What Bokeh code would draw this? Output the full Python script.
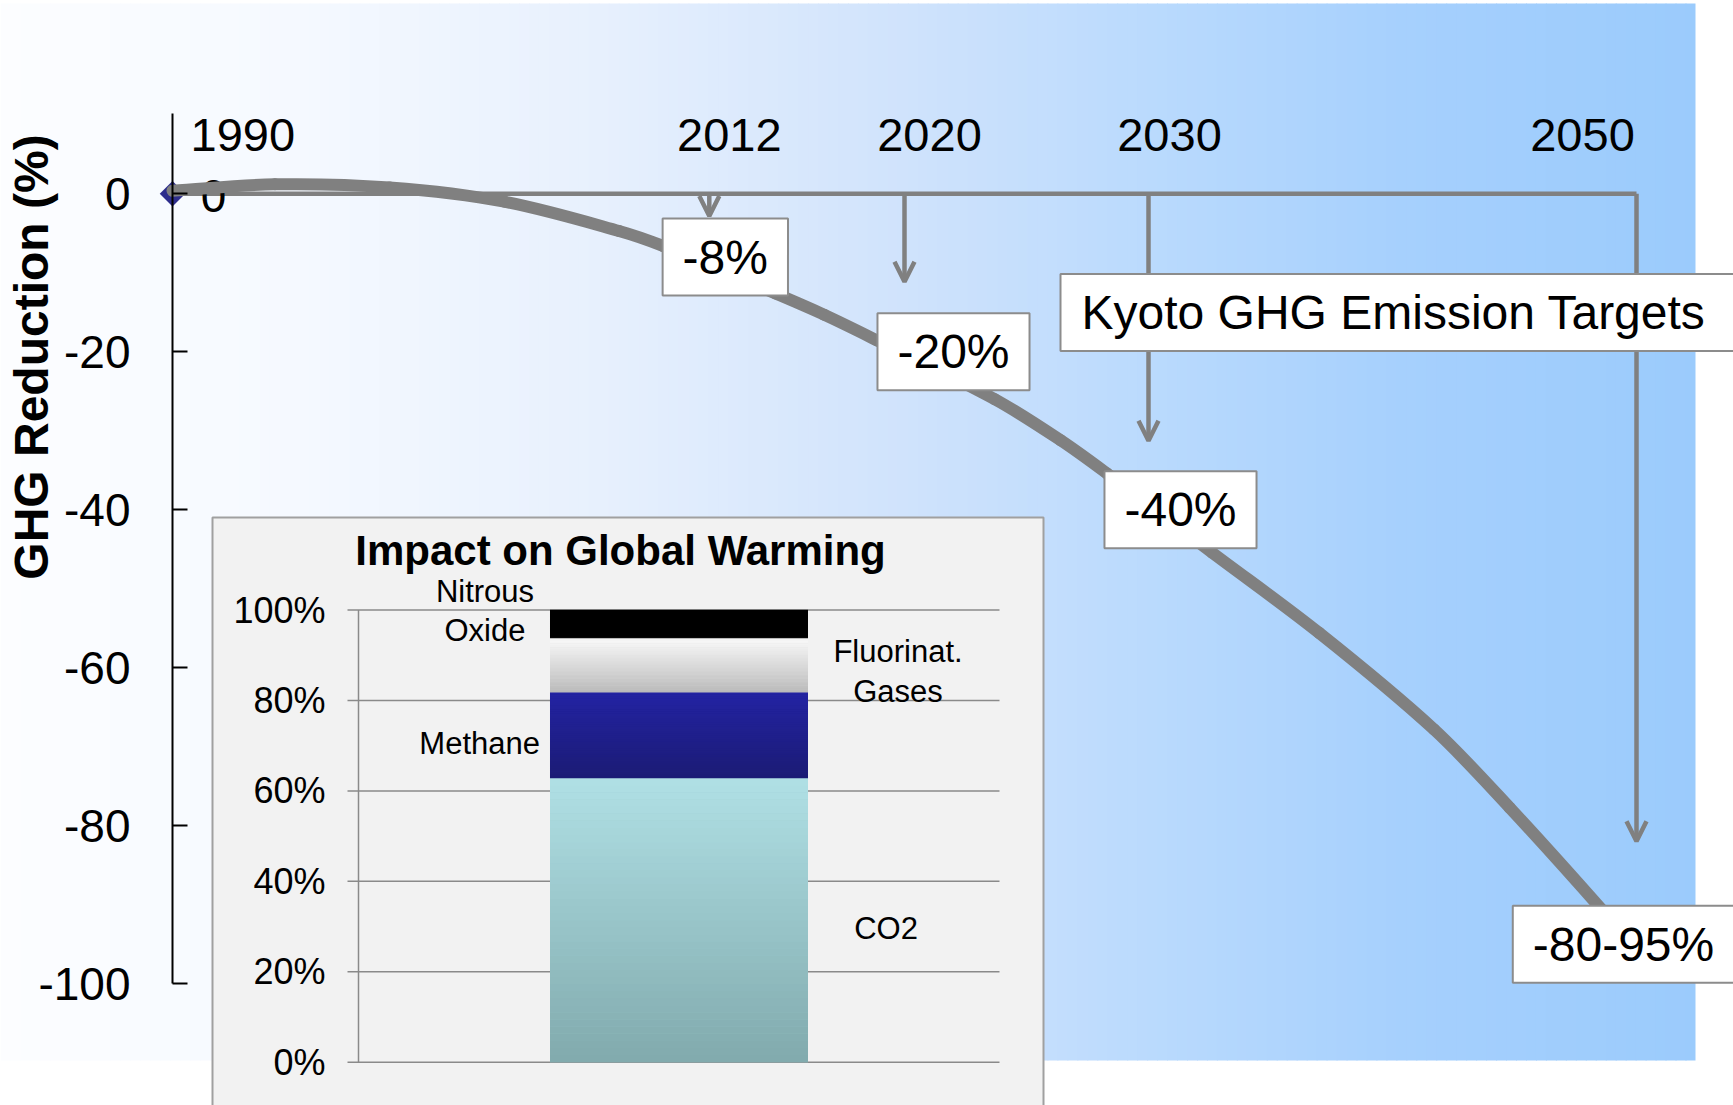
import numpy as np
from bokeh.plotting import figure
from bokeh.models import (Range1d, LinearAxis, FixedTicker, Label, Arrow, OpenHead,
                          CustomJSTickFormatter)
from bokeh.core.properties import value
from bokeh.embed import file_html
from bokeh.resources import INLINE

# ---------------- data ----------------
base_year = 1990
base_value = 0
target_years = [2012, 2020, 2030, 2050]
target_values = [-8, -20, -40, -95]          # where each target box sits
target_labels = ["-8%", "-20%", "-40%", "-80-95%"]
year_labels = ["1990", "2012", "2020", "2030", "2050"]
label_years = [1990, 2012, 2020, 2030, 2050]
y_ticks = [0, -20, -40, -60, -80, -100]

# smooth reduction path
trend_years = [1990.0, 1994.2, 1998.9, 2003.6, 2008.3, 2010.1, 2014.7, 2016.7, 2018.9,
               2023.7, 2026.4, 2028.3, 2032.6, 2037.0, 2041.7, 2044.8, 2048.6, 2049.6]
trend_values = [0.4, 1.2, 0.8, -1.0, -4.7, -6.6, -12.6, -15.3, -18.6,
                -26.0, -31.2, -35.4, -45.4, -55.6, -67.8, -77.7, -90.7, -94.5]

# inset: impact on global warming (stacked 100% bar)
gases = ["CO2", "Methane", "Fluorinat.\nGases", "Nitrous\nOxide"]
gas_share = [62.8, 19.0, 12.0, 6.2]
inset_ticks = [0, 20, 40, 60, 80, 100]

# ---------------- layout / style ----------------
W, H = 1733, 1105
FONT = "Liberation Sans"
GRAY = "#808080"
X0_PX, K = 172.0, 24.4        # px of base year, px per year
Y0_PX, PPU = 193.3, 7.9       # px of 0 %, px per %
IX0_PX, IK = 358.0, 641.0     # inset: px of category-axis start, px per unit
IY0_PX, IPPU = 1061.7, 4.521  # inset: px of 0 %, px per %


def mx(px):
    return base_year + (np.asarray(px, dtype=float) - X0_PX) / K


def my(py):
    return (Y0_PX - np.asarray(py, dtype=float)) / PPU


def ix(px):
    return (np.asarray(px, dtype=float) - IX0_PX) / IK


def iy(py):
    return (IY0_PX - np.asarray(py, dtype=float)) / IPPU


p = figure(width=W, height=H, output_backend="svg", toolbar_location=None,
           x_axis_type=None, y_axis_type=None, min_border=0,
           x_range=Range1d(float(mx(0)), float(mx(W))),
           y_range=Range1d(float(my(H)), float(my(0))))
p.outline_line_color = None
p.background_fill_color = "white"
p.border_fill_color = "white"
p.xgrid.visible = False
p.ygrid.visible = False
p.extra_x_ranges = {"inset": Range1d(float(ix(0)), float(ix(W)))}
p.extra_y_ranges = {"pct": Range1d(float(iy(H)), float(iy(0)))}

# ---- background gradient ----
stops_px = [0, 300, 600, 900, 1150, 1400, 1695]
stops_rgb = [(252, 253, 255), (245, 249, 255), (231, 240, 253), (208, 227, 252),
             (186, 218, 253), (166, 208, 253), (155, 203, 252)]
nb = 170
edges = np.linspace(0, 1695, nb + 1)
mids = (edges[:-1] + edges[1:]) / 2
cols = []
for m in mids:
    c = [int(round(np.interp(m, stops_px, [s[i] for s in stops_rgb]))) for i in range(3)]
    cols.append("#%02x%02x%02x" % tuple(c))
right_edges = np.minimum(edges[1:] + 1.0, 1695)
p.quad(left=mx(edges[:-1]), right=mx(right_edges), top=float(my(3)), bottom=float(my(1060)),
       fill_color=cols, line_color=None)

# ---- target line and arrows ----
p.line(x=[base_year, target_years[-1]], y=[base_value, base_value], line_width=4.5, color=GRAY)

BOX_HALF_PX = 39
ARROW_GAP_PX = [2, 31, 30, 64]
for yr, tv, gap in zip(target_years, target_values, ARROW_GAP_PX):
    tip = tv + (BOX_HALF_PX + gap) / PPU
    p.add_layout(Arrow(x_start=yr, y_start=base_value, x_end=yr, y_end=tip,
                       line_color=GRAY, line_width=4.5,
                       end=OpenHead(size=20, line_color=GRAY, line_width=4.5)))

# ---- data label "0", base point and smoothed curve ----
p.text(x=[base_year], y=[base_value], text=["0"], x_offset=41, y_offset=2,
       text_font=value(FONT), text_font_size="46px", text_align="center",
       text_baseline="middle", text_color="black")
p.scatter(x=[base_year], y=[base_value], marker="square", size=18, angle=np.pi / 4,
          fill_color="#2d2d8c", line_color=None)

tx = np.array(trend_years, dtype=float)
tv = np.array(trend_values, dtype=float)
n = len(tx)
slope = np.empty(n)
slope[0] = (tv[1] - tv[0]) / (tx[1] - tx[0])
slope[-1] = (tv[-1] - tv[-2]) / (tx[-1] - tx[-2])
slope[1:-1] = (tv[2:] - tv[:-2]) / (tx[2:] - tx[:-2])
h = np.diff(tx)
p.bezier(x0=tx[:-1], y0=tv[:-1], x1=tx[1:], y1=tv[1:],
         cx0=tx[:-1] + h / 3, cy0=tv[:-1] + slope[:-1] * h / 3,
         cx1=tx[1:] - h / 3, cy1=tv[1:] - slope[1:] * h / 3,
         line_width=12, line_color=GRAY, line_cap="round")

# ---- year labels ----
YEAR_DX = [18, 20, 25, 21, -54]
p.text(x=label_years, y=[base_value] * len(label_years), text=year_labels,
       x_offset=YEAR_DX, y_offset=-59,
       text_align=["left", "center", "center", "center", "center"],
       text_baseline="middle", text_font=value(FONT), text_font_size="47px", text_color="black")

# ---- target boxes ----
BOX_DX = [16, 49, 32, -13]
for yr, tval, lab, dx in zip(target_years, target_values, target_labels, BOX_DX):
    p.add_layout(Label(x=yr, y=tval, text=lab, x_offset=dx, text_align="center",
                       text_baseline="middle", text_font=FONT, text_font_size="48px",
                       text_color="black", background_fill_color="white",
                       border_line_color="#8c8c8c", border_line_width=2,
                       padding=dict(left=20, right=20, top=12, bottom=12)))

p.add_layout(Label(x=float(mx(1060)), y=float(my(312)), text="Kyoto GHG Emission Targets",
                   text_align="left", text_baseline="middle", text_font=FONT,
                   text_font_size="48px", text_color="black", background_fill_color="white",
                   border_line_color="#8c8c8c", border_line_width=2,
                   padding=dict(left=21, right=45, top=12, bottom=12)))

# ---- main y axis ----
yaxis = LinearAxis(fixed_location=base_year, bounds=(-100, float(my(113))),
                   ticker=FixedTicker(ticks=y_ticks),
                   formatter=CustomJSTickFormatter(code="return tick.toFixed(0);"))
yaxis.axis_line_color = "black"
yaxis.axis_line_width = 2
yaxis.major_tick_line_color = "black"
yaxis.major_tick_line_width = 2
yaxis.major_tick_in = 15
yaxis.major_tick_out = 0
yaxis.minor_tick_in = 0
yaxis.minor_tick_out = 0
yaxis.major_label_standoff = 42
yaxis.major_label_text_font = FONT
yaxis.major_label_text_font_size = "46px"
yaxis.major_label_text_color = "black"
p.add_layout(yaxis, "left")

p.add_layout(Label(x=float(mx(31)), y=float(my(356.5)), text="GHG Reduction (%)",
                   angle=np.pi / 2, text_align="center", text_baseline="middle",
                   text_font=FONT, text_font_size="48px", text_font_style="bold",
                   text_color="black"))

# ---------------- inset ----------------
R = dict(x_range_name="inset", y_range_name="pct")
p.quad(left=float(ix(212)), right=float(ix(1043)), top=float(iy(517)), bottom=float(iy(H + 20)),
       fill_color="#f2f2f2", line_color="#a0a0a0", line_width=2, **R)

stub = -11.0 / IK
p.segment(x0=[stub] * len(inset_ticks), y0=inset_ticks, x1=[1.0] * len(inset_ticks),
          y1=inset_ticks, line_color="#8a8a8a", line_width=1.5, **R)
p.segment(x0=[0], y0=[0], x1=[0], y1=[100], line_color="#8a8a8a", line_width=1.5, **R)
p.text(x=[stub] * len(inset_ticks), y=inset_ticks, text=[f"{t}%" for t in inset_ticks],
       x_offset=-22, text_align="right", text_baseline="middle", text_font=value(FONT),
       text_font_size="36px", text_color="black", **R)

BAR_X, BAR_W = 0.5, 0.4025
bottoms = np.concatenate([[0], np.cumsum(gas_share)[:-1]])
tops = np.cumsum(gas_share)
top_rgb = [(176, 224, 229), (35, 35, 163), (250, 250, 250), (0, 0, 0)]
bot_rgb = [(129, 170, 173), (27, 27, 116), (186, 186, 186), (0, 0, 0)]
mid_cols = ["#%02x%02x%02x" % tuple((np.array(a) + np.array(b)) // 2) for a, b in zip(top_rgb, bot_rgb)]
p.vbar(x=[BAR_X] * 4, width=BAR_W, bottom=bottoms, top=tops, fill_color=mid_cols,
       line_color=None, **R)
nbands = 40
eps = 0.3 / IPPU
for b, t, ct, cb in zip(bottoms, tops, top_rgb, bot_rgb):
    e = np.linspace(b, t, nbands + 1)
    fr = (np.arange(nbands) + 0.5) / nbands
    bc = ["#%02x%02x%02x" % tuple(int(round(cb[i] + (ct[i] - cb[i]) * f)) for i in range(3)) for f in fr]
    p.quad(left=BAR_X - BAR_W / 2, right=BAR_X + BAR_W / 2, bottom=e[:-1], top=e[1:] + eps,
           fill_color=bc, line_color=None, **R)

mids_pct = (bottoms + tops) / 2
bar_l, bar_r = BAR_X - BAR_W / 2, BAR_X + BAR_W / 2
lab_x = [bar_r, bar_l, bar_r, bar_l]
lab_dx = [78, -10, 90, -65]
lab_dy = [8, 8, 6, -13]
lab_align = ["center", "right", "center", "center"]
p.text(x=lab_x, y=mids_pct, text=gases, x_offset=lab_dx, y_offset=lab_dy,
       text_align=lab_align, text_baseline="middle", text_font=value(FONT),
       text_font_size="31px", text_line_height=1.13, text_color="black", **R)

p.text(x=[float(ix(620))], y=[float(iy(550))], text=["Impact on Global Warming"],
       text_align="center", text_baseline="middle", text_font=value(FONT),
       text_font_size="42px", text_font_style="bold", text_color="black", **R)

open("out.html", "w").write(file_html(p, INLINE))
